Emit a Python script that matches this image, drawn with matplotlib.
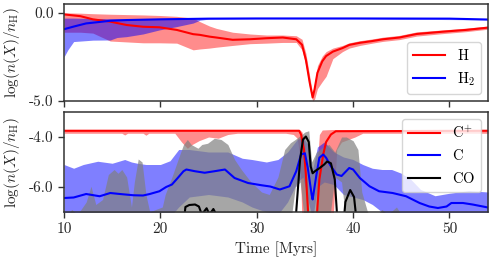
import matplotlib
matplotlib.use("Agg")
import matplotlib.pyplot as plt
import numpy as np

plt.rcParams.update({
    "font.family": "serif",
    "font.serif": ["cmr10", "DejaVu Serif"],
    "mathtext.fontset": "cm",
    "axes.unicode_minus": False,
    "axes.formatter.use_mathtext": True,
    "font.size": 8.5,
})

# ---------------- top panel: H and H2 ----------------
t_H = [10, 11.7, 13, 14.8, 16.5, 18.2, 19.9, 21.7, 23.4, 24.1, 25.1, 25.8, 27.5, 29.3,
       31.0, 32.7, 34.1, 34.7, 35.1, 35.5, 35.8, 36.0, 36.3, 36.8, 37.2, 37.9, 38.9,
       39.6, 40.7, 42.0, 43.1, 44.8, 46.6, 49.3, 51.7, 54]
H_med = [-0.09, -0.19, -0.37, -0.5, -0.69, -0.79, -0.82, -0.97, -1.21, -1.25, -1.35, -1.4,
         -1.53, -1.5, -1.44, -1.4, -1.5, -1.81, -2.66, -3.96, -4.8, -4.34, -3.4, -2.75,
         -2.45, -2.2, -2.0, -1.82, -1.7, -1.6, -1.5, -1.4, -1.2, -1.07, -0.97, -0.84]
H_hi = [-0.0, -0.02, -0.05, -0.08, -0.1, -0.12, -0.15, -0.2, -0.3, -0.5, -0.75, -0.88,
        -1.1, -1.2, -1.26, -1.26, -1.3, -1.5, -2.3, -3.6, -4.6, -4.0, -3.0, -2.45,
        -2.2, -2.0, -1.85, -1.7, -1.58, -1.48, -1.38, -1.28, -1.08, -0.97, -0.87, -0.75]
H_lo = [-1.1, -1.1, -1.15, -1.6, -1.65, -1.7, -1.7, -1.72, -2.1, -2.05, -2.0, -1.95,
        -1.85, -1.75, -1.72, -1.68, -1.68, -2.1, -3.0, -4.3, -5.0, -4.9, -4.3, -3.9,
        -3.6, -2.6, -2.2, -2.0, -1.85, -1.72, -1.62, -1.52, -1.32, -1.18, -1.07, -0.93]

t_H2 = [10, 11, 12.3, 13, 14.8, 16.5, 20, 25, 30, 40, 50, 54]
H2_med = [-0.93, -0.78, -0.6, -0.56, -0.45, -0.41, -0.37, -0.33, -0.32, -0.32, -0.33, -0.38]
t_H2b = [10, 10.4, 11, 13, 14.8, 15.5, 16.5, 18.2, 19.9, 21.7, 23.4, 24.1, 25, 30, 40, 54]
H2_hi = [-0.3, -0.3, -0.3, -0.32, -0.33, -0.33, -0.33, -0.33, -0.32, -0.3, -0.3, -0.3,
         -0.3, -0.3, -0.3, -0.36]
H2_lo = [-2.5, -2.1, -1.63, -1.55, -1.54, -1.4, -1.35, -1.2, -0.97, -0.78, -0.58, -0.42,
         -0.36, -0.34, -0.34, -0.4]

# ---------------- bottom panel: C+, C, CO ----------------
t_Cp = [10, 34.4, 34.6, 34.9, 35.1, 35.3, 35.4, 36.2, 36.3, 36.5, 36.9, 37.2, 37.7, 38.2, 54]
Cp_med = [-3.75, -3.75, -3.9, -4.5, -5.5, -6.8, -7.5, -7.5, -6.8, -5.7, -4.7, -4.2,
          -3.9, -3.77, -3.75]
t_Cpb = [10, 16.0, 16.3, 16.6, 18.2, 18.5, 18.8, 21.5, 22.2, 22.8, 23.3, 24.0, 25.0, 26.0,
         27.0, 28.0, 33.0, 33.8, 34.2, 34.5, 34.7, 35.0, 35.2, 35.4, 36.1, 36.3, 36.5,
         36.8, 37.9, 38.3, 38.8, 39.5, 40.2, 41.0, 54]
Cp_hi = [-3.7, -3.7, -3.7, -3.7, -3.7, -3.7, -3.7, -3.7, -3.7, -3.7, -3.7, -3.7, -3.7,
         -3.7, -3.7, -3.7, -3.7, -3.7, -3.7, -3.72, -3.8, -4.3, -5.5, -7.5, -7.5, -5.0,
         -3.9, -3.72, -3.7, -3.7, -3.7, -3.7, -3.7, -3.7, -3.7]
Cp_lo = [-3.85, -3.85, -3.92, -3.85, -3.85, -3.93, -3.85, -3.85, -4.2, -4.45, -4.3, -4.15,
         -4.0, -4.05, -3.9, -3.85, -3.85, -3.9, -4.05, -4.85, -7.5, -7.5, -7.5, -7.5,
         -7.5, -7.5, -7.5, -7.5, -7.5, -4.5, -4.2, -4.1, -4.0, -3.85, -3.85]

t_C = [10.0, 11, 12.3, 13.7, 14.8, 15.8, 17.2, 18.2, 18.9, 19.9, 20.6, 21.2, 21.8, 22.4,
       22.7, 23.6, 24.6, 25.6, 26.7, 27.7, 29.1, 30.5, 31.4, 32.4, 33.4, 34.1, 34.6,
       35.0, 35.3, 35.7, 35.8, 36.2, 36.5, 36.9, 37.2, 37.7, 38.3, 38.8, 39.6, 40.0,
       40.7, 41.7, 42.7, 44.1, 45.5, 46.9, 47.9, 48.8, 49.7, 50.2, 51.4, 52.4, 54]
C_med = [-6.44, -6.42, -6.28, -6.37, -6.24, -6.28, -6.33, -6.34, -6.28, -6.17, -6.0, -5.9,
         -5.64, -5.37, -5.3, -5.37, -5.43, -5.37, -5.3, -5.64, -5.84, -5.93, -5.98, -6.1,
         -5.97, -5.37, -4.7, -4.65, -5.24, -6.31, -6.5, -5.5, -4.83, -4.7, -4.83, -5.17,
         -5.5, -5.56, -5.24, -5.3, -5.64, -5.97, -6.17, -6.24, -6.37, -6.64, -6.78, -6.84,
         -6.78, -6.64, -6.64, -6.7, -6.82]
t_Cb = [10, 11, 12, 13.5, 15, 16.3, 17, 17.6, 18.5, 20, 21, 21.9, 23, 25, 27, 28.5, 29.5,
        31, 32.2, 33.2, 34.2, 34.8, 35.3, 35.8, 36.3, 37, 38, 39, 40, 41, 42, 43, 44, 45,
        46, 47, 48.5, 50, 52, 54]
C_hi = [-5.1, -5.25, -5.1, -4.97, -5.05, -4.9, -5.0, -5.05, -5.1, -5.1, -4.95, -4.5, -4.5,
        -4.6, -4.6, -4.85, -4.9, -5.0, -4.9, -4.6, -4.1, -4.0, -4.3, -5.3, -4.4, -4.2,
        -4.6, -4.8, -4.9, -5.1, -5.25, -5.3, -5.3, -5.45, -5.7, -6.1, -6.35, -6.25,
        -6.15, -6.2]
C_lo = [-7.6, -7.6, -7.6, -7.6, -7.6, -7.6, -7.6, -7.6, -7.6, -7.5, -7.2, -6.8, -6.4,
        -6.3, -6.4, -6.6, -6.8, -7.0, -7.1, -6.6, -5.8, -5.6, -6.5, -7.3, -6.0, -5.8,
        -5.9, -6.3, -6.4, -6.5, -6.7, -7.0, -7.3, -7.5, -7.6, -7.6, -7.6, -7.6, -7.6, -7.6]

t_CO = [10, 22.4, 22.6, 23.0, 23.6, 24.0, 24.3, 24.6, 24.8, 25.1, 25.5, 25.8, 26.1, 34.0,
        34.5, 34.8, 35.1, 35.4, 35.6, 35.8, 36.1, 36.5, 37.0, 37.3, 37.7, 38.1, 38.4,
        39.0, 39.2, 39.7, 40.1, 40.4, 54]
CO_med = [-7.5, -7.5, -6.8, -6.72, -6.7, -6.78, -7.1, -6.95, -6.85, -7.1, -6.88, -7.1,
          -7.5, -7.5, -4.9, -4.1, -3.98, -4.2, -5.18, -5.45, -5.35, -5.25, -5.1, -4.98,
          -5.05, -5.7, -7.5, -7.5, -6.6, -6.12, -6.4, -7.5, -7.5]
t_COb = [10, 10.8, 11.4, 12.3, 12.8, 13.3, 14.0, 14.6, 15.2, 15.6, 16.0, 16.5, 17.0, 17.3,
         17.7, 18.1, 18.5, 18.9, 19.5, 20.2, 20.5, 21.2, 21.9, 22.4, 22.8, 23.2, 23.9,
         24.3, 24.9, 25.6, 26.3, 27.0, 27.7, 28.4, 29.4, 30.5, 31.3, 32.2, 32.9, 33.5,
         34.0, 34.5, 35.0, 35.4, 35.7, 36.2, 36.9, 37.5, 38.1, 38.8, 39.3, 40.0, 40.5,
         40.9, 41.5, 42.5, 43.0, 43.6, 44.5, 45.0, 46.0, 54]
CO_hi = [-7.3, -6.9, -7.1, -6.6, -5.97, -6.7, -6.5, -5.5, -5.3, -5.45, -5.3, -5.6, -6.8,
         -5.8, -4.88, -5.0, -6.3, -7.0, -6.9, -6.8, -6.3, -5.6, -4.83, -4.3, -4.1, -4.3,
         -4.45, -4.3, -4.25, -4.05, -4.1, -4.3, -4.9, -5.3, -5.8, -6.2, -6.3, -5.6, -4.5,
         -4.23, -4.1, -3.95, -3.8, -3.75, -5.0, -4.6, -4.4, -4.3, -4.6, -4.0, -4.0, -4.15,
         -4.5, -6.2, -7.0, -7.1, -6.9, -7.1, -6.8, -7.1, -7.5, -7.5]
CO_lo = [-7.5, -7.5, -7.5, -7.5, -7.5, -7.5, -7.5, -7.5, -7.5, -7.5, -7.5, -7.5, -7.5,
         -7.5, -7.5, -7.5, -7.5, -7.5, -7.5, -7.5, -7.5, -7.5, -7.5, -7.5, -7.5, -7.5,
         -7.5, -7.5, -7.5, -7.5, -7.5, -7.5, -7.5, -7.5, -7.5, -7.5, -7.5, -7.5, -7.5,
         -7.5, -6.0, -5.8, -7.5, -7.5, -7.5, -7.5, -7.5, -7.5, -5.6, -5.8, -7.5, -7.5,
         -7.5, -7.5, -7.5, -7.5, -7.5, -7.5, -7.5, -7.5, -7.5, -7.5]

x_ticks = [10, 20, 30, 40, 50]
x_ticklabels = ["10", "20", "30", "40", "50"]
top_yticks = [0.0, -5.0]
top_yticklabels = ["0.0", "-5.0"]
bot_yticks = [-4.0, -6.0]
bot_yticklabels = ["-4.0", "-6.0"]

W, Hh = 501, 265
fig = plt.figure(figsize=(W / 100, Hh / 100), dpi=100)
ax1 = fig.add_axes([64 / W, 1 - 101 / Hh, 424 / W, 97 / Hh])
ax2 = fig.add_axes([64 / W, 1 - 212 / Hh, 424 / W, 100 / Hh])

spine_col = "#333333"
for ax in (ax1, ax2):
    for s in ax.spines.values():
        s.set_color(spine_col)
        s.set_linewidth(1.1)
    ax.tick_params(direction="out", length=4, width=1.0, color=spine_col,
                   labelcolor="#262626", labelsize=11)
    ax.set_xlim(10, 54)
    ax.set_xticks(x_ticks)
    ax.set_ylabel(r"$\log(n(X)/n_{\rm H})$", fontsize=11, color="#262626")
    ax.yaxis.set_label_coords(-0.098, 0.5)

# top
ax1.fill_between(t_H, H_lo, H_hi, color="red", alpha=0.45, lw=0)
ax1.fill_between(t_H2b, H2_lo, H2_hi, color="blue", alpha=0.5, lw=0)
ax1.plot(t_H, H_med, color="red", lw=1.5, label=r"$\rm H$")
ax1.plot(t_H2, H2_med, color="blue", lw=1.5, label=r"$\rm H_2$")
ax1.set_ylim(-5, 0.5)
ax1.set_yticks(top_yticks)
ax1.set_yticklabels(top_yticklabels)
ax1.set_xticklabels([])
ax1.legend(loc="lower right", fontsize=10.5, handlelength=2.2, framealpha=0.8,
           edgecolor="#cccccc")

# bottom
ax2.fill_between(t_Cpb, Cp_lo, Cp_hi, color="red", alpha=0.45, lw=0)
ax2.fill_between(t_Cb, C_lo, C_hi, color="blue", alpha=0.5, lw=0)
ax2.fill_between(t_COb, CO_lo, CO_hi, color="gray", alpha=0.7, lw=0)
ax2.plot(t_Cp, Cp_med, color="red", lw=1.5, label=r"$\rm C^{+}$")
ax2.plot(t_C, C_med, color="blue", lw=1.5, label=r"$\rm C$")
ax2.plot(t_CO, CO_med, color="black", lw=1.5, label=r"$\rm CO$")
ax2.set_ylim(-7, -3)
ax2.set_yticks(bot_yticks)
ax2.set_yticklabels(bot_yticklabels)
ax2.set_xticklabels(x_ticklabels)
ax2.set_xlabel("Time [Myrs]", fontsize=11, color="#262626")
ax2.legend(loc="upper right", fontsize=10.5, handlelength=2.2, framealpha=0.8,
           edgecolor="#cccccc")

fig.savefig("out.png", dpi=100)
